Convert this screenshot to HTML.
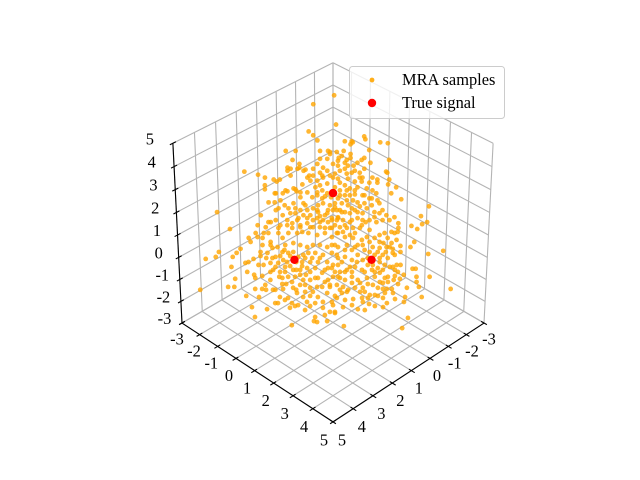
<!DOCTYPE html>
<html>
<head>
<meta charset="utf-8">
<title>MRA samples 3D scatter</title>
<style>
html,body{margin:0;padding:0;background:#fff;}
svg{display:block;font-family:"Liberation Serif","Times New Roman",serif;}
text{font-size:16.4px;fill:#000;}
</style>
</head>
<body>
<svg id="chart" width="640" height="480" viewBox="0 0 640 480" xmlns="http://www.w3.org/2000/svg">
<g id="grid"></g>
<g id="axes"></g>
<g id="marks"></g>
<g id="legend">
<rect x="349.5" y="66.5" width="155" height="52" rx="3" ry="3" fill="#fff" fill-opacity="0.8" stroke="#cccccc" stroke-width="1"/>
<circle cx="372" cy="80" r="2.4" fill="#ffa500" fill-opacity="0.9"/>
<circle cx="372" cy="103" r="4.2" fill="#ff0000"/>
<text x="402" y="85">MRA samples</text>
<text x="402" y="108">True signal</text>
</g>
</svg>
<script>
const tickValues = [-3,-2,-1,0,1,2,3,4,5];
const signalX = [0,2,0];
const signalY = [0,0,2];
const signalZ = [1.89,-0.11,-0.11];
const sampleX = [
-1.48,-.79,-1.08,-.26,-.32,-.35,.64,.38,-.26,-.47,-.50,-.68,.60,.48,.53,.84,.78,.60,.89,.47,.40,2.03,1.72,1.58,1.38,1.33,1.22,1.70,1.76,1.53,1.35,1.20,1.00,.96,.71,.47,.39,.01,-.14,-.33,-.47,-.09,.07,-.15,-.40,-.58,.19,.26,.06,-.15,-.31,-.31,.41,.26,.04,.70,.88,.44,
-1.64,-1.63,-1.06,-1.24,-1.16,-1.25,-1.97,-2.16,-1.56,-.88,-1.01,-.75,-.64,-.82,-.73,-.95,-1.31,-1.21,-1.06,-1.40,-1.93,-.77,-.92,-1.15,-.97,-1.68,-1.23,-1.33,-1.64,-.97,-.90,-.62,-.48,-1.69,-.20,-.57,-.71,-.89,-1.07,-1.28,-1.53,-1.70,-1.48,-.30,-.39,-.47,-.69,-.91,-1.03,-.18,-.10,
3.34,3.26,4.32,4.03,3.88,3.27,3.43,3.59,3.77,4.91,4.15,3.99,3.85,3.35,3.26,3.44,3.08,2.86,3.30,3.32,3.48,3.30,3.81,3.50,3.21,3.03,3.83,3.47,3.17,3.90,
1.86,1.78,1.69,1.22,1.25,.96,.70,.45,.30,.19,
2.25,1.93,2.09,1.63,1.55,1.31,.96,.82,.70,.44,.27,
2.48,2.65,2.44,2.32,1.98,1.71,1.62,1.37,1.16,1.07,.89,.64,
2.90,2.66,2.39,2.06,2.02,1.80,1.57,1.42,1.28,1.08,.85,.73,.51,
2.91,2.65,2.43,2.29,2.06,1.82,1.67,1.52,1.34,1.16,1.00,.77,
2.80,2.63,2.48,2.23,2.09,1.95,1.73,1.57,1.39,1.22,.96,.88,
2.91,2.70,2.50,2.33,2.26,2.63,1.87,1.66,1.35,1.22,1.11,
2.74,2.59,2.46,2.22,2.04,1.83,1.62,1.40,1.17,
2.96,2.62,2.45,2.27,2.11,1.93,1.70,1.47,1.16,
2.97,2.76,2.48,2.13,2.04,1.85,1.52,1.31,
2.96,2.76,2.46,2.36,2.16,1.98,1.68,1.52,
2.74,2.70,2.61,2.33,2.14,1.92,1.69,
2.01,1.71,1.89,1.76,2.35,2.37,
-.11,-.24,-.37,-.51,-.70,-1.09,-1.65,-2.26,-1.91,-1.98,-1.82,-1.51,-1.61,-1.34,-1.16,-1.52,-1.96,-1.57,-.70,-.78,-.87,-.79,-1.21,-.89,-.97,-.46,-.27,-.17,-.03,
-1.20,-1.21,-1.14,-.96,-.91,-.92,-.68,-.64,-.83,-.64,-.54,-.41,-.46,-.32,-.57,-.41,-.23,-.28,-.05,.09,.16,.38,.50,-.05,.08,-.02,.18,.29,.68,.81,1.10,.85,.89,.61,.76,.64,.29,.45,.02,.41,.31,1.48,1.13,1.78,
.14,-.04,-.21,-.37,-.46,-.63,-.89,-1.02,
.29,.11,.01,-.10,-.28,-.43,-.76,-1.00,-1.02,
.47,.28,.18,-.05,-.23,-.33,-.51,-.66,-.85,-1.03,
.59,.37,.20,.04,-.14,-.36,-.54,-.70,-.90,-1.06,
.54,.39,.19,-.01,-.18,-.37,-.44,-.71,
.85,.72,.46,.28,.05,-.18,-.35,-.54,
.86,.68,.55,.32,.27,-.12,-.33,-.41,-.14,-.62,
1.19,.98,.83,.57,.44,.18,0,-.10,-.33,-.23,
1.29,1.13,1.03,.80,.70,.43,.21,.02,-.13,-.41,
1.49,1.18,1.09,.88,1.30,1.15,1.50,
3.07,2.44,2.10,2.07,1.74,.27,
.88,1.24,.96,.95,.29,.05,.44,1.56,1.70,1.32,.96,.64,.48,.61,.79,.71,.49,.20,1.68,1.89,1.37,1.08,.96,.34,1.40,1.14,.77,
.30,.15,-.01,.40,.42,.58,.72,.94,1.14,1.43,1.48,1.52,1.45,1.14,.47,.60,.81,.09,-.17,-.22,-.46,-.61,-.79,-.32,.21,.03,.07,-.23,-.38,-.68,-.87,.36,.23,
2.15,2.09,2.02,1.89,1.73,1.55,2.35,2.58,2.24,2.14,2.38,1.93,1.81,1.46,2.43,2.26,2.61,2.43,2.23,2.03,1.72,1.77,1.51,1.29,2.71,2.68,1.96,1.58,2.11,
.07,-.03,-.24,.11,.08,-.20,-.45,-.62,-.52,-.73,-.18,.18,.40,.58,.84,.70,.45,.91,.73,.40,.14,-.03,.21,.68,.89,1.04,1.30,.48,.69,.19,.70,
-.64,-.76,-.87,-.51,.19,.28,-.36,-.57,-.01,-.75,-.83,-1.01,
2.15,2.30,2.44,2.54,2.74,3.04,2.84,3.11,3.16,2.87,3.10,2.86,2.50,2.31,1.32,1.22,.96
];
const sampleY = [
-1.42,-1.83,-.92,-1.54,-1.36,-1.17,-1.84,-1.58,-.94,-.73,-.66,-.48,-1.52,-1.28,-1.23,-1.54,-1.44,-1.26,-1.49,-1.07,-1.04,-2.61,-2.20,-1.98,-1.72,-1.61,-1.56,-1.86,-1.80,-1.45,-1.27,-1.18,-1.06,-.94,-.89,-.87,-.85,-.81,-.82,-.63,-.63,-.61,-.61,-.45,-.40,-.32,-.85,-.56,-.46,-.31,-.21,-.05,-.51,-.42,-.26,-.64,-.82,-.38,
0,.07,-.44,-.26,-.24,-.21,.51,.72,.34,-.32,-.09,-.29,-.34,-.10,-.11,-.03,.33,.29,.22,.56,1.01,.01,.16,.49,.43,1.10,.83,.99,1.30,.57,.50,.10,-.12,1.15,-.20,.21,.43,.61,.83,1.04,1.35,1.60,1.56,.06,.23,.41,.59,.85,1.03,.18,0,
-2.70,-2.10,-2.28,-2.05,-2.04,-1.53,-1.57,-1.61,-1.49,-1.95,-1.27,-1.11,-1.21,-1.19,-1.12,-1.00,-1.04,-.90,-.78,-.70,-.54,-.36,-.67,-.32,-.25,-.07,-.35,.07,.19,-.12,
-1.50,-1.20,-1.15,-.84,-.71,-.38,-.12,-.07,.14,.39,
-1.51,-1.05,-1.15,-.75,-.57,-.49,-.22,0,.18,.38,.53,
-1.44,-1.37,-1.16,-1.04,-.86,-.67,-.50,-.33,-.18,.03,.21,.48,
-1.48,-1.26,-.85,-.78,-.60,-.52,-.29,-.18,0,.26,.43,.67,.77,
-1.37,-1.01,-.71,-.59,-.42,-.24,-.03,.18,.30,.48,.70,.87,
-.96,-.77,-.50,-.39,-.23,-.11,.19,.29,.47,.70,.90,1.14,
-.69,-.54,-.34,-.25,-.12,-.35,.27,.48,.67,.92,1.11,
-.36,-.15,-.02,.16,.34,.49,.70,.98,1.27,
-.28,0,.13,.31,.57,.75,.92,1.21,1.42,
-.01,.18,.42,.69,.86,1.03,1.36,1.51,
.22,.44,.60,.82,.98,1.20,1.38,1.62,
.62,.74,.81,.99,1.22,1.40,1.63,
1.49,1.71,1.73,1.86,1.43,1.55,
.25,.38,.51,.63,.84,1.17,1.91,2.74,2.67,2.92,2.82,2.57,2.77,2.88,2.86,3.42,3.76,4.51,3.88,3.66,3.45,3.53,3.79,3.23,3.31,3.36,3.45,3.49,3.83,
2.00,2.19,2.26,2.24,2.39,2.58,2.42,2.56,2.67,2.86,2.76,2.69,2.90,2.88,3.09,3.05,2.91,3.08,2.79,2.67,2.58,2.44,2.30,2.99,2.86,3.08,2.76,2.61,2.22,2.21,2.14,2.35,2.43,2.51,2.62,2.80,3.07,3.03,3.22,2.73,2.89,2.00,2.41,1.88,
.24,.42,.51,.67,.82,1.01,1.13,1.40,
.29,.47,.63,.78,.86,1.11,1.40,1.58,1.76,
.41,.54,.70,.93,1.05,1.21,1.39,1.60,1.73,1.91,
.53,.73,.92,1.08,1.26,1.54,1.88,1.98,2.14,2.30,
.74,1.01,1.23,1.49,1.58,1.79,1.98,2.13,
.79,.98,1.18,1.42,1.59,1.88,2.07,2.24,
1.06,1.30,1.53,1.60,1.81,2.04,2.25,2.43,2.28,2.48,
1.13,1.24,1.55,1.71,1.94,2.20,2.32,2.48,2.61,2.45,
1.29,1.49,1.65,1.78,1.98,2.19,2.37,2.44,2.71,2.79,
1.33,1.70,1.87,2.02,1.76,1.87,1.70,
.95,1.46,1.80,1.65,2.30,3.83,
-1.34,-1.24,-1.00,-.75,-.75,-.51,-.74,-1.48,-1.34,-.64,-.58,-.44,-.34,-.17,-.25,-.07,.19,.30,-.94,-.85,-.49,-.26,-.08,.54,-.30,-.04,.35,
-.12,.05,.25,-.16,.16,.16,.04,-.50,-.56,-.89,-1.04,-1.22,-.77,-.40,.57,.34,.13,.55,.61,.76,.94,1.15,1.23,.96,.83,.91,1.21,1.27,1.32,1.48,1.55,.88,1.11,
-.37,-.13,.12,.09,.29,.47,-.39,-.56,.02,.24,-.10,.33,.63,.68,.31,.56,.19,.53,.79,.99,1.16,.85,.95,1.03,.09,-.10,.56,1.16,.41,
1.71,1.87,2.08,1.91,2.14,2.22,2.29,2.32,2.10,2.31,1.72,1.46,1.38,1.20,1.30,1.58,1.69,1.53,1.71,2.04,2.30,2.65,2.01,2.08,1.87,1.40,1.66,2.64,2.33,2.87,2.50,
-.02,.22,.27,-.25,-.11,-.28,.36,.57,.09,.89,1.07,1.31,
-1.21,-1.20,-.80,-1.12,-.72,-.82,-.40,-.55,-.34,.39,.26,.64,1.06,1.13,1.94,2.20,2.60
];
const sampleZ = [
4.89,4.62,4.00,3.79,3.67,3.52,3.20,3.20,3.20,3.20,3.17,3.17,2.93,2.81,2.69,2.69,2.66,2.66,2.60,2.60,2.63,2.57,2.48,2.39,2.33,2.27,2.33,2.16,2.04,1.92,1.92,1.98,2.07,1.98,2.19,2.39,2.45,2.81,2.96,2.96,3.11,2.69,2.54,2.60,2.81,2.90,2.66,2.30,2.39,2.45,2.51,2.36,2.10,2.16,2.21,1.95,1.95,1.95,
3.64,3.55,3.49,3.49,3.40,3.46,3.46,3.43,3.23,3.20,3.11,3.05,2.99,2.93,2.84,2.99,2.99,2.93,2.84,2.84,2.93,2.75,2.75,2.66,2.54,2.57,2.39,2.33,2.33,2.39,2.39,2.51,2.60,2.54,2.39,2.36,2.27,2.27,2.24,2.24,2.19,2.10,1.92,2.24,2.16,2.07,2.10,2.07,2.01,2.01,2.10,
1.35,.85,-.05,.01,.16,.25,.13,.01,-.29,-.97,-.88,-.88,-.64,-.17,-.14,-.43,-.05,.04,-.52,-.61,-.94,-.94,-1.15,-1.18,-.97,-.97,-1.48,-1.54,-1.36,-1.77,
1.65,1.41,1.47,1.62,1.47,1.41,1.41,1.62,1.56,1.41,
1.26,1.11,1.05,1.11,1.02,1.17,1.26,1.17,1.11,1.17,1.20,
.96,.73,.73,.73,.88,.96,.88,.96,1.02,.90,.90,.88,
.58,.61,.46,.73,.58,.73,.73,.76,.73,.67,.73,.61,.73,
.46,.37,.28,.31,.37,.43,.37,.31,.37,.37,.31,.37,
.16,.13,.01,.16,.13,.16,.07,.13,.13,.07,.13,-.02,
-.23,-.17,-.17,-.08,-.14,-.29,-.14,-.14,-.02,-.14,-.23,
-.37,-.43,-.43,-.37,-.37,-.32,-.32,-.37,-.43,
-.67,-.61,-.58,-.58,-.67,-.67,-.61,-.67,-.58,
-.97,-.94,-.91,-.82,-.91,-.88,-.88,-.82,
-1.18,-1.21,-1.06,-1.18,-1.15,-1.18,-1.06,-1.15,
-1.36,-1.45,-1.42,-1.33,-1.36,-1.33,-1.33,
-1.50,-1.42,-1.62,-1.62,-1.77,-1.92,
1.86,1.86,1.86,1.89,1.86,1.92,1.74,1.53,1.23,1.05,.99,.94,.85,.46,.31,.10,.19,-.94,-1.18,-.88,-.58,-.73,-.58,-.34,-.34,-.91,-1.18,-1.33,-1.80,
1.20,1.02,.88,.73,.52,.34,.25,.07,.16,-.23,-.23,-.29,-.43,-.55,-.52,-.64,-.67,-.79,-.73,-.76,-.73,-.82,-.79,-.94,-.94,-1.06,-.94,-.91,-.91,-1.03,-1.24,-1.21,-1.33,-1.12,-1.39,-1.45,-1.36,-1.48,-1.24,-1.15,-1.21,-1.48,-1.54,-1.65,
1.62,1.62,1.71,1.71,1.65,1.62,1.77,1.62,
1.41,1.41,1.35,1.32,1.41,1.32,1.35,1.41,1.26,
1.11,1.17,1.11,1.11,1.17,1.11,1.11,1.05,1.11,1.11,
.88,.90,.88,.88,.88,.82,.67,.73,.76,.76,
.73,.61,.58,.52,.61,.58,.46,.58,
.37,.31,.37,.31,.37,.31,.28,.31,
.07,.01,-.08,.07,-.08,.07,.07,-.02,-.14,.13,
-.32,-.23,-.37,-.29,-.37,-.37,-.32,-.37,-.29,-.23,
-.58,-.61,-.67,-.58,-.67,-.61,-.58,-.46,-.58,-.37,
-.82,-.88,-.97,-.91,-1.06,-1.03,-1.21,
-2.01,-1.89,-1.89,-1.71,-2.04,-2.10,
2.45,2.01,2.04,1.80,2.45,2.45,2.30,1.92,1.65,1.32,1.62,1.80,1.86,1.56,1.47,1.35,1.32,1.50,1.26,.96,1.11,1.17,1.11,1.11,.90,.90,.88,
1.83,1.80,1.77,1.77,1.41,1.26,1.23,1.56,1.41,1.47,1.56,1.71,1.32,1.26,.96,1.05,1.05,1.35,1.56,1.47,1.53,1.47,1.56,1.35,.96,1.05,.73,.96,1.05,1.20,1.32,.76,.67,
.22,.04,-.14,.01,-.02,-.02,.04,-.02,-.26,-.37,-.29,-.26,-.43,-.14,-.73,-.82,-.79,-.97,-1.03,-1.03,-.88,-.61,-.46,-.32,-.79,-.58,-.52,-.73,-.52,
.22,.16,.16,-.02,-.23,-.02,.16,.31,.43,.43,.46,.37,.22,.22,-.14,-.29,-.14,-.43,-.43,-.43,-.43,-.61,-.23,-.76,-.76,-.43,-.97,-1.12,-1.03,-1.06,-1.21,
2.66,2.54,2.60,2.75,1.92,2.01,2.01,2.01,1.92,1.86,1.77,1.71,
1.05,.90,.37,.58,-.02,-.23,-.43,-.55,-.82,-1.27,-1.36,-1.50,-1.57,-1.45,-1.27,-1.42,-1.57
];

const NS = 'http://www.w3.org/2000/svg';
const limMin = -3, limMax = 5, limMid = 1, limSpan = 8;
const viewDistV = 10, viewDistH = 7, scaleH = 219.8, scaleV = 253, cx = 333, cy = 235, zSquash = 0.82;
const axisW = [0.61237, 0.61237, 0.5];
const axisU = [-0.70711, 0.70711, 0];
const axisV = [-0.35355, -0.35355, 0.86603];

function project(x, y, z) {
  const p = [(x - limMid) / limSpan, (y - limMid) / limSpan, (z - limMid) / limSpan * zSquash];
  const dot = (a) => a[0] * p[0] + a[1] * p[1] + a[2] * p[2];
  const kH = viewDistH / (viewDistH - dot(axisW));
  const kV = viewDistV / (viewDistV - dot(axisW));
  return { x: cx + scaleH * dot(axisU) * kH, y: cy - scaleV * dot(axisV) * kV };
}

function drawLine(parent, a, b, color, name) {
  const el = document.createElementNS(NS, 'line');
  
  
  el.setAttribute('x1', a.x.toFixed(2));
  el.setAttribute('y1', a.y.toFixed(2));
  el.setAttribute('x2', b.x.toFixed(2));
  el.setAttribute('y2', b.y.toFixed(2));
  el.setAttribute('stroke', color);
  el.setAttribute('stroke-width', '1.1');
  parent.appendChild(el);
}

function drawLabel(parent, px, py, value, name) {
  const el = document.createElementNS(NS, 'text');
  
  
  el.setAttribute('x', px.toFixed(1));
  el.setAttribute('y', py.toFixed(1));
  el.setAttribute('text-anchor', 'middle');
  el.textContent = String(value);
  parent.appendChild(el);
}

function drawDot(parent, px, py, r, color, opacity, name) {
  const el = document.createElementNS(NS, 'circle');
  
  
  el.setAttribute('cx', px.toFixed(2));
  el.setAttribute('cy', py.toFixed(2));
  el.setAttribute('r', r);
  el.setAttribute('fill', color);
  el.setAttribute('fill-opacity', opacity);
  parent.appendChild(el);
}

const gridG = document.getElementById('grid');
const axesG = document.getElementById('axes');
const marksG = document.getElementById('marks');
const gridColor = '#b4b4b4';

tickValues.forEach(function (t) {
  drawLine(gridG, project(t, limMin, limMin), project(t, limMax, limMin), gridColor, 'floor-gridline-x');
  drawLine(gridG, project(limMin, t, limMin), project(limMax, t, limMin), gridColor, 'floor-gridline-y');
  drawLine(gridG, project(t, limMin, limMin), project(t, limMin, limMax), gridColor, 'left-wall-gridline-vertical');
  drawLine(gridG, project(limMin, t, limMin), project(limMin, t, limMax), gridColor, 'right-wall-gridline-vertical');
  drawLine(gridG, project(limMax, limMin, t), project(limMin, limMin, t), gridColor, 'left-wall-gridline-horizontal');
  drawLine(gridG, project(limMin, limMin, t), project(limMin, limMax, t), gridColor, 'right-wall-gridline-horizontal');
});

drawLine(axesG, project(limMax, limMin, limMin), project(limMax, limMax, limMin), '#000', 'y-axis-line');
drawLine(axesG, project(limMax, limMax, limMin), project(limMin, limMax, limMin), '#000', 'x-axis-line');
drawLine(axesG, project(limMax, limMin, limMin), project(limMax, limMin, limMax), '#000', 'z-axis-line');

tickValues.forEach(function (t) {
  const frac = (t - limMin) / limSpan;
  const yTick = project(limMax, t, limMin);
  drawLine(axesG, project(limMax - 0.14, t, limMin), project(limMax + 0.14, t, limMin), '#000', 'y-axis-tick');
  drawLabel(axesG, yTick.x - 5 - 4 * frac, yTick.y + 16 + 2 * frac + 5.5, t, 'y-axis-tick-label');
  const xTick = project(t, limMax, limMin);
  drawLine(axesG, project(t, limMax - 0.14, limMin), project(t, limMax + 0.14, limMin), '#000', 'x-axis-tick');
  drawLabel(axesG, xTick.x + 5 + 4 * frac, xTick.y + 16 + 2 * frac + 5.5, t, 'x-axis-tick-label');
  const zTick = project(limMax, limMin, t);
  drawLine(axesG, project(limMax - 0.14, limMin, t), project(limMax + 0.14, limMin, t), '#000', 'z-axis-tick');
  const zOff = t < 0 ? -17.5 : -20 - 0.6 * t;
  drawLabel(axesG, zTick.x + zOff, zTick.y - 4.5 + 5.5, t, 'z-axis-tick-label');
});

const sampleCount = Math.min(sampleX.length, sampleY.length, sampleZ.length);
for (let i = 0; i < sampleCount; i++) {
  const p = project(sampleX[i], sampleY[i], sampleZ[i]);
  drawDot(marksG, p.x, p.y, 2.4, '#ffa500', 0.8, 'sample-point');
}
for (let i = 0; i < signalX.length; i++) {
  const p = project(signalX[i], signalY[i], signalZ[i]);
  drawDot(marksG, p.x, p.y, 4.2, '#ff0000', 1, 'true-signal-point');
}
</script>
</body>
</html>
